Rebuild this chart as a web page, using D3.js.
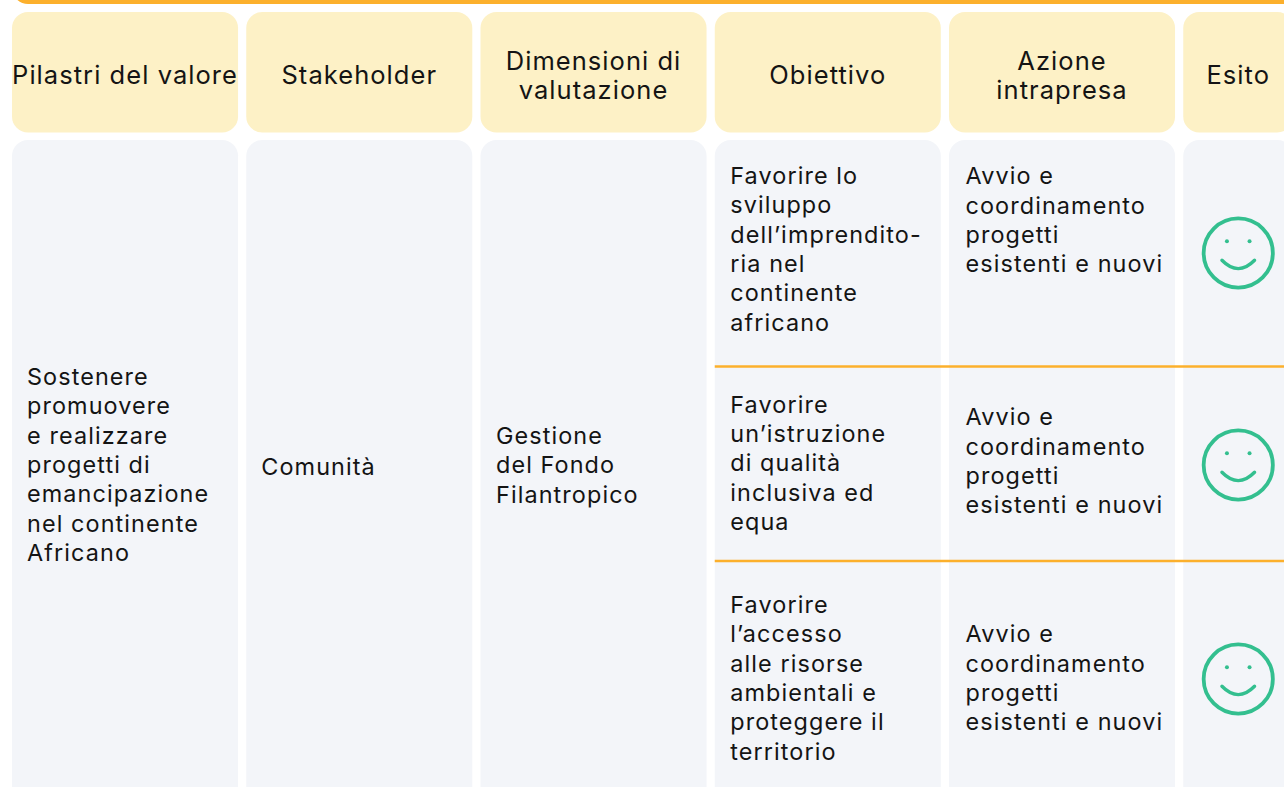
<!DOCTYPE html>
<html>
<head>
<meta charset="utf-8">
<style>
  html, body { margin: 0; padding: 0; background: #fff; overflow: hidden; }
  text { font-family: Inter, "Noto Sans", sans-serif; fill: #141414; }
</style>
</head>
<body>
<svg id="table" width="1284" height="787"></svg>
<script src="https://cdn.jsdelivr.net/npm/d3@7"></script>
<script>
// table content
const headers = [["Pilastri del valore"], ["Stakeholder"], ["Dimensioni di", "valutazione"], ["Obiettivo"], ["Azione", "intrapresa"], ["Esito"]];
const pillar = ["Sostenere", "promuovere", "e realizzare", "progetti di", "emancipazione", "nel continente", "Africano"];
const stakeholder = ["Comunità"];
const dimension = ["Gestione", "del Fondo", "Filantropico"];
const objectives = [
    ["Favorire lo", "sviluppo", "dell’imprendito-", "ria nel", "continente", "africano"],
    ["Favorire", "un’istruzione", "di qualità", "inclusiva ed", "equa"],
    ["Favorire", "l’accesso", "alle risorse", "ambientali e", "proteggere il", "territorio"]
];
const action = ["Avvio e", "coordinamento", "progetti", "esistenti e nuovi"];
const rowNames = ["impresa", "istruzione", "ambiente"];

let svg = d3.select("#table");

const orange = "#fcb02c";
const cream = "#fdf1c6";
const grey = "#f3f5f9";
const green = "#33bf8f";
const lineHeight = 29.3;

// Columns
let colScale = d3.scaleBand()
    .domain(d3.range(6))
    .range([12, 1409.3])
    .paddingInner(0.035);
let colWidth = colScale.bandwidth();
let lastWidth = 110;
let widthOf = (i) => i === 5 ? lastWidth : colWidth;

// Vertical centre of each row, for the text and the smiley
let objectiveY = d3.scaleOrdinal().domain(rowNames).range([249, 463, 678]);
let actionY = d3.scaleOrdinal().domain(rowNames).range([220, 461, 678]);
let smileY = d3.scaleOrdinal().domain(rowNames).range([253, 465, 679]);

// Top bar
svg.append("rect")
    .attr("x", 12).attr("y", -40)
    .attr("width", 1400).attr("height", 44)
    .attr("rx", 16)
    .attr("fill", orange);

// Header and body cells
svg.selectAll(".head")
    .data(headers)
    .join("rect")
    .attr("class", "head")
    .attr("x", (d, i) => colScale(i))
    .attr("y", 12)
    .attr("width", (d, i) => widthOf(i))
    .attr("height", 120.5)
    .attr("rx", 16)
    .attr("fill", cream);

svg.selectAll(".body")
    .data(headers)
    .join("rect")
    .attr("class", "body")
    .attr("x", (d, i) => colScale(i))
    .attr("y", 140)
    .attr("width", (d, i) => widthOf(i))
    .attr("height", 700)
    .attr("rx", 16)
    .attr("fill", grey);

// Row separators
svg.selectAll(".sep")
    .data([366.5, 561])
    .join("line")
    .attr("class", "sep")
    .attr("x1", colScale(3))
    .attr("x2", 1284)
    .attr("y1", (d) => d)
    .attr("y2", (d) => d)
    .attr("stroke", orange)
    .attr("stroke-width", 2.4);

// Draws a block of lines around a vertical centre
function block(lines, x, cy, anchor, size, spacing) {
    let g = svg.append("g");
    g.selectAll("text")
        .data(lines)
        .join("text")
        .text((d) => d)
        .attr("x", x)
        .attr("y", (d, i) => cy + (i - (lines.length - 1) / 2) * lineHeight)
        .attr("dy", "0.36em")
        .attr("text-anchor", anchor)
        .style("font-size", size + "px")
        .style("letter-spacing", spacing + "px");
}

// Header text
headers.forEach((lines, i) => {
    block(lines, colScale(i) + widthOf(i) / 2, 75, "middle", 25.5, 1.05);
});

// Body text
block(pillar, colScale(0) + 15, 464.5, "start", 23.4, 1.1);
block(stakeholder, colScale(1) + 15, 466.5, "start", 23.4, 1.1);
block(dimension, colScale(2) + 15.5, 465, "start", 23.4, 1.1);

rowNames.forEach((row, i) => {
    block(objectives[i], colScale(3) + 15.5, objectiveY(row), "start", 23.4, 1.1);
    block(action, colScale(4) + 16.5, actionY(row), "start", 23.4, 1.1);
});

// Smileys
let smile = svg.selectAll(".smile")
    .data(rowNames)
    .join("g")
    .attr("class", "smile")
    .attr("transform", (d) => "translate(" + (colScale(5) + lastWidth / 2) + "," + smileY(d) + ")");

smile.append("circle")
    .attr("r", 34.6)
    .attr("fill", "none")
    .attr("stroke", green)
    .attr("stroke-width", 3.8);

smile.selectAll(".eye")
    .data([-11.3, 11.3])
    .join("circle")
    .attr("class", "eye")
    .attr("cx", (d) => d)
    .attr("cy", -11.7)
    .attr("r", 2)
    .attr("fill", green);

smile.append("path")
    .attr("d", "M-16.3,7.3 Q0,24 16.3,7.3")
    .attr("fill", "none")
    .attr("stroke", green)
    .attr("stroke-width", 3.4)
    .attr("stroke-linecap", "round");
</script>
</body>
</html>
